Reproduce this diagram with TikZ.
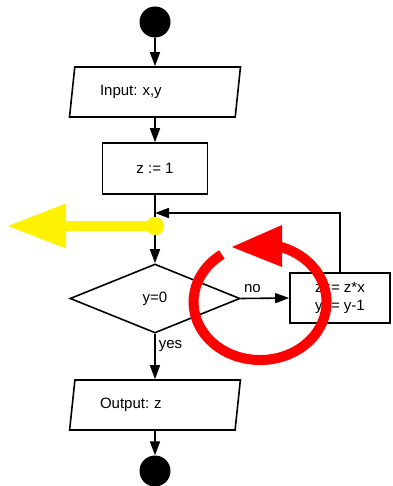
\documentclass[tikz,border=0pt]{standalone}
\usepackage{fontspec}
\setmainfont{Liberation Sans}
\usetikzlibrary{shapes.geometric,arrows.meta}
\frenchspacing
\begin{document}
\begin{tikzpicture}[x=1pt,y=-1pt,
  every node/.style={font=\fontsize{15}{18}\selectfont},
  blk/.style={line width=1.6pt,draw=black},
  flow/.style={blk,-{Triangle[length=14pt,width=10pt]}},
  terminal/.style={circle,fill=black,minimum size=31pt,inner sep=0pt},
  io/.style={trapezium,trapezium stretches=true,trapezium left angle=75,trapezium right angle=105,
    blk,minimum width=171pt,minimum height=50pt,inner sep=0pt,text width=110pt,align=left},
  proc/.style={rectangle,blk,inner sep=0pt,align=left},
  decision/.style={diamond,blk,minimum width=170pt,minimum height=69pt,inner sep=0pt},
  lbl/.style={inner sep=1pt}
]
\useasboundingbox (0,0) rectangle (392,486);
\node[terminal] (start) at (155,22) {};
\node[io] (in) at (155,92) {\frenchspacing Input: x,y};
\node[proc,minimum width=105pt,minimum height=51pt] (init) at (155,168.5) {z := 1};
\node[circle,fill=yellow,minimum size=18pt,inner sep=0pt] (jn) at (155,226) {};
\coordinate (merge) at (155,213);
\node[decision] (dec) at (155,298.5) {y=0};
\node[proc,minimum width=100pt,minimum height=50pt] (body) at (340,298) {z := z*x\\y := y-1};
\node[io] (out) at (155,405) {\frenchspacing Output: z};
\node[terminal] (stop) at (155,471) {};
\coordinate (ytip) at (7,226);
\coordinate (corner) at (body.north |- merge);

\draw[flow] (start) -- (in.north);
\draw[flow] (in.south) -- (init.north);
\draw[blk] (init.south) -- (jn.center);
\draw[flow] (jn.center) -- (dec.north);
\draw[flow] (dec.east) -- node[lbl,above=4pt,pos=0.24] {no} (body.west);
\draw[flow] (dec.south) -- node[lbl,right=2pt,pos=0.27] {yes} (out.north);
\draw[flow] (out.south) -- (stop);
\draw[flow] (body.north) -- (corner) -- (merge);

% yellow marker
\draw[yellow,line width=10pt,-{Triangle[length=59pt,width=42pt]}] (jn.center) -- (ytip);
\node[circle,fill=yellow,minimum size=18pt,inner sep=0pt] at (jn) {};

% red loop
\draw[red,line width=10pt] (221.9,254.5) arc[start angle=125,end angle=432,x radius=66.5pt,y radius=58pt];
\fill[red] (282,225) -- (232,247) -- (282,267) -- cycle;
\end{tikzpicture}
\end{document}
